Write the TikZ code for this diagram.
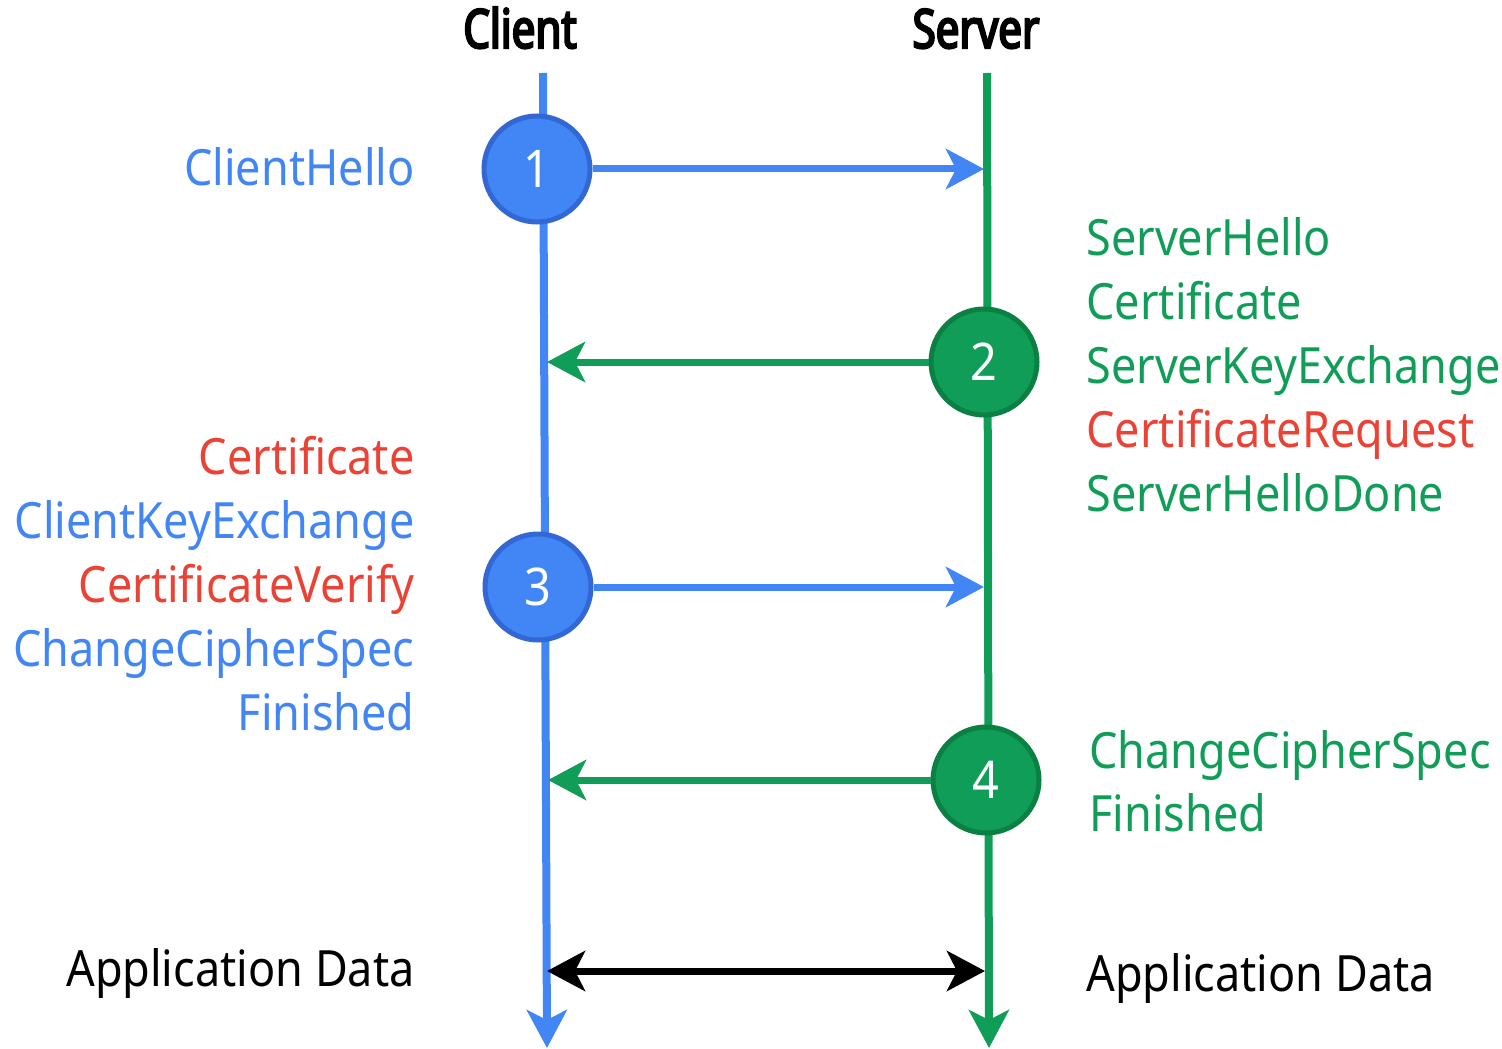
\documentclass[tikz,border=0pt]{standalone}
\usepackage{fontspec}
\setmainfont[FakeStretch=0.9]{Noto Sans}
\newfontfamily\titlefont[FakeStretch=0.78, FakeBold=4]{Noto Sans}
\usetikzlibrary{arrows.meta,positioning}
\definecolor{gblue}{HTML}{4285F4}
\definecolor{gblueD}{HTML}{3367D6}
\definecolor{ggreen}{HTML}{0F9D58}
\definecolor{ggreenD}{HTML}{0B8043}
\definecolor{gred}{HTML}{EA4335}
\tikzset{
  dart/.tip={Stealth[length=19pt,width=20pt,inset=5pt]},
  lbl/.style={font=\fontsize{25}{30}\selectfont, inner sep=0pt},
  leftlbl/.style={lbl, anchor=base east},
  rightlbl/.style={lbl, anchor=base west},
  titlelbl/.style={font=\titlefont\fontsize{27}{30}\selectfont, inner sep=0pt, anchor=base},
  num/.style={circle, line width=2.5pt, minimum size=53pt, inner sep=0pt, text=white, font=\fontsize{26}{30}\selectfont},
  cnum/.style={num, draw=gblueD, fill=gblue},
  snum/.style={num, draw=ggreenD, fill=ggreen},
  msg/.style={line width=3.5pt, -{dart}},
  life/.style={line width=4pt, -{dart}}
}
\begin{document}
\begin{tikzpicture}[x=0.5pt, y=-0.5pt]
\useasboundingbox (0,0) rectangle (1502,1048);
\node[titlelbl] (client) at (520,48) {Client};
\node[titlelbl] (server) at (976,48) {Server};
\coordinate (ctop) at (543,73);
\coordinate (cbot) at (547,1048);
\coordinate (stop) at (987,73);
\coordinate (sbot) at (989,1048);
\draw[life, gblue] (ctop) -- (cbot);
\draw[life, ggreen] (stop) -- (sbot);

\node[cnum] (m1) at (537,169) {1};
\node[snum] (m2) at (984,362) {2};
\node[cnum] (m3) at (538,587) {3};
\node[snum] (m4) at (986,780) {4};
\coordinate (s1) at (984,169);
\coordinate (c2) at (547,362);
\coordinate (s3) at (984,587);
\coordinate (c4) at (548,780);
\coordinate (ca) at (547,971);
\coordinate (sa) at (985,971);
\draw[msg, gblue] (m1) -- (s1);
\draw[msg, ggreen] (m2) -- (c2);
\draw[msg, gblue] (m3) -- (s3);
\draw[msg, ggreen] (m4) -- (c4);
\draw[line width=3.5pt, {dart}-{dart}] (ca) -- (sa);

\node[leftlbl, gblue] (hello) at (415,186) {ClientHello};
\node[leftlbl, gred] (ccert) at (415,474) {Certificate};
\node[leftlbl, gblue] (ckx) at (415,538) {ClientKeyExchange};
\node[leftlbl, gred] (cverify) at (415,602) {CertificateVerify};
\node[leftlbl, gblue] (cccs) at (415,666) {ChangeCipherSpec};
\node[leftlbl, gblue] (cfin) at (415,730) {Finished};
\node[leftlbl] (cdata) at (415,986) {Application Data};

\node[rightlbl, ggreen] (shello) at (1086,255) {ServerHello};
\node[rightlbl, ggreen] (scert) at (1086,319) {Certificate};
\node[rightlbl, ggreen] (skx) at (1086,383) {ServerKeyExchange};
\node[rightlbl, gred] (sreq) at (1086,447) {CertificateRequest};
\node[rightlbl, ggreen] (sdone) at (1086,511) {ServerHelloDone};
\node[rightlbl, ggreen] (sccs) at (1089,768) {ChangeCipherSpec};
\node[rightlbl, ggreen] (sfin) at (1089,831) {Finished};
\node[rightlbl] (sdata) at (1086,991) {Application Data};
\end{tikzpicture}
\end{document}
